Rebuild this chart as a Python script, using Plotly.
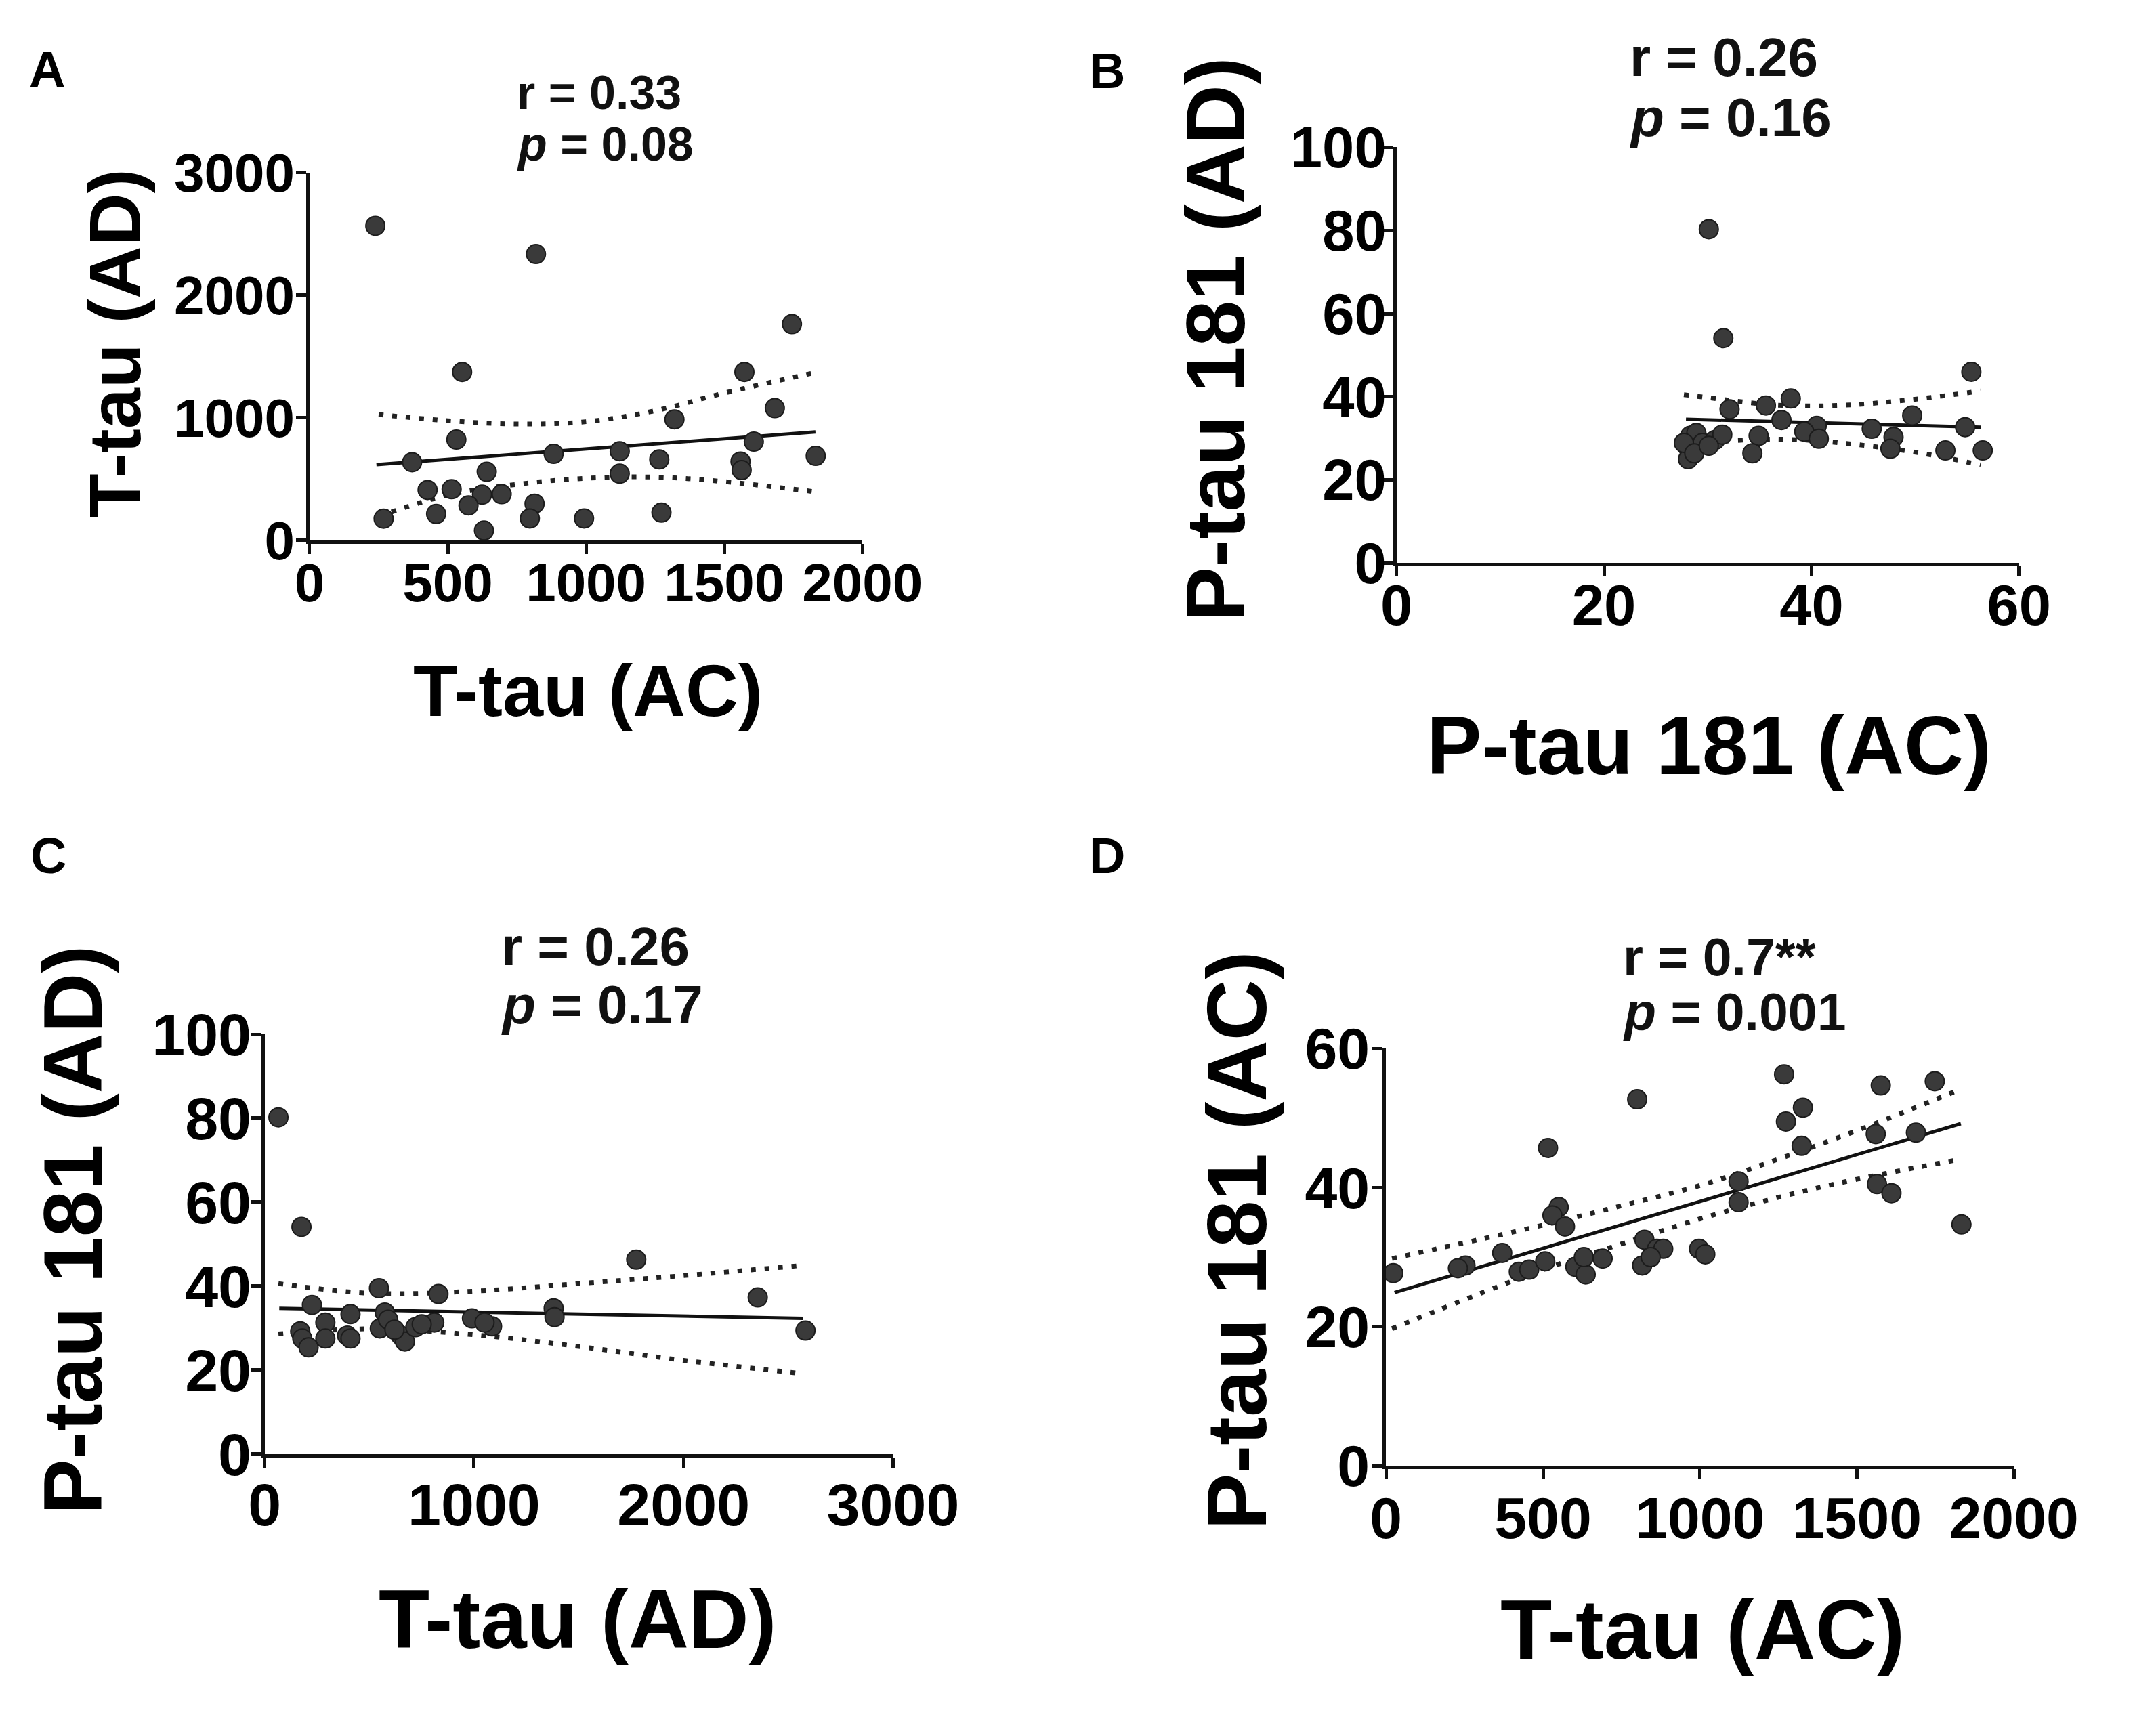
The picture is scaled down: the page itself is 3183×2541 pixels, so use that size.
import plotly.graph_objects as go

# ---- data ----
# A: T-tau (AC) vs T-tau (AD)
a_x = [238, 819, 1745, 552, 1573, 1683, 1320, 531, 1607, 371, 883, 1122, 1265, 1831, 1559,
       1563, 641, 1122, 427, 514, 624, 695, 575, 814, 797, 268, 458, 993, 1273, 631]
a_y = [2566, 2336, 1764, 1374, 1374, 1079, 987, 822, 805, 637, 706, 727, 660, 689, 643,
       573, 559, 544, 411, 417, 373, 377, 285, 299, 179, 177, 215, 179, 226, 80]
a_fit_x = [242, 1830]
a_fit_y = [618, 885]
a_band_x = [250, 500, 750, 1000, 1250, 1500, 1830]
a_band_hi = [1027, 976, 949, 968, 1058, 1202, 1370]
a_band_lo = [196, 369, 457, 506, 516, 479, 396]

# B: P-tau 181 (AC) vs P-tau 181 (AD)
b_x = [30.1, 31.5, 55.4, 38.0, 35.6, 32.1, 49.7, 37.1, 54.8, 45.8, 40.5, 39.3, 40.7, 47.9,
       47.6, 52.9, 56.5, 34.9, 34.3, 28.3, 28.9, 28.1, 28.1, 29.5, 30.7, 31.4, 27.7, 28.7, 30.1]
b_y = [80.3, 54.1, 46.0, 39.6, 37.9, 37.0, 35.5, 34.4, 32.7, 32.3, 33.0, 31.6, 29.9, 30.3,
       27.5, 27.1, 27.1, 30.6, 26.4, 30.6, 31.3, 27.8, 25.0, 28.9, 29.6, 30.9, 28.9, 26.4, 28.2]
b_fit_x = [27.9, 56.3]
b_fit_y = [34.6, 32.7]
b_band_x = [27.7, 32, 36, 40, 44, 48, 52, 56.3]
b_band_hi = [40.5, 39.2, 38.1, 37.8, 38.1, 38.9, 40.0, 41.4]
b_band_lo = [28.7, 29.4, 29.8, 29.5, 28.6, 27.4, 25.8, 23.6]

# C: T-tau (AD) vs P-tau 181 (AD)
c_x = [66, 176, 1774, 2354, 2582, 1380, 1384, 546, 830, 226, 410, 574, 990, 1086, 170,
       180, 210, 290, 290, 394, 410, 550, 590, 650, 670, 720, 810, 620, 750, 1050]
c_y = [80.2, 54.1, 46.3, 37.3, 29.4, 34.7, 32.6, 39.5, 38.1, 35.5, 33.3, 33.7, 32.3, 30.4, 29.2,
       27.5, 25.4, 31.3, 27.5, 28.2, 27.5, 29.9, 32.0, 28.2, 26.8, 30.2, 31.3, 29.6, 30.9, 31.3]
c_fit_x = [70, 2570]
c_fit_y = [34.7, 32.3]
c_band_x = [66, 500, 1000, 1500, 2000, 2540]
c_band_hi = [40.6, 38.3, 38.8, 40.6, 42.5, 44.8]
c_band_lo = [28.6, 29.8, 28.4, 25.6, 22.3, 19.3]

# D: T-tau (AC) vs P-tau 181 (AC)
d_x = [1268, 1576, 1748, 800, 1328, 1274, 516, 1324, 1560, 1688, 1123, 1123, 1564, 1610, 1833,
       550, 530, 570, 370, 253, 229, 23, 423, 456, 507, 603, 636, 630, 690, 823, 863, 883,
       816, 843, 997, 1017]
d_y = [56.3, 54.7, 55.3, 52.7, 51.5, 49.5, 45.7, 46.0, 47.7, 47.9, 40.9, 37.9, 40.5, 39.2, 34.7,
       37.2, 36.0, 34.4, 30.6, 28.8, 28.4, 27.7, 27.9, 28.2, 29.4, 28.6, 27.5, 30.0, 29.8, 32.5,
       31.2, 31.2, 28.8, 30.0, 31.2, 30.4]
d_fit_x = [27, 1831]
d_fit_y = [24.9, 49.2]
d_band_x = [19, 500, 750, 1000, 1250, 1500, 1833]
d_band_hi = [29.8, 34.6, 37.4, 40.3, 44.1, 48.2, 54.2]
d_band_lo = [19.7, 28.2, 31.9, 35.5, 38.6, 41.2, 44.1]

# page is 3183x2541; body has an 8px margin, so keep the figure inside it
PAGE_W, PAGE_H = 3183, 2541
OFF = 8
W, H = PAGE_W - 2 * OFF, PAGE_H - 2 * OFF
FONT = "Liberation Sans, Arial, sans-serif"
INK = "#111111"


def fx(px):
    return (px - OFF) / W


def fy(px):
    return 1 - (px - OFF) / H


panels = [
    dict(x=a_x, y=a_y, fx=a_fit_x, fy=a_fit_y, bx=a_band_x, bhi=a_band_hi, blo=a_band_lo,
         xr=[0, 2000], yr=[0, 3000], xt=[0, 500, 1000, 1500, 2000], yt=[0, 1000, 2000, 3000],
         xtitle="T-tau (AC)", ytitle="T-tau (AD)", box=(450, 1299, 214, 779), tsize=108,
         ticksize=80, xstd=-26, ystd=-14,
         xtpos=(877, 1010), ytpos=(151, 476), letter="A", lpos=(17, 55), r="r = 0.33", p="0.08",
         spos=(766, 91, 170), ssize=70),
    dict(x=b_x, y=b_y, fx=b_fit_x, fy=b_fit_y, bx=b_band_x, bhi=b_band_hi, blo=b_band_lo,
         xr=[0, 60], yr=[0, 100], xt=[0, 20, 40, 60], yt=[0, 20, 40, 60, 80, 100],
         xtitle="P-tau 181 (AC)", ytitle="P-tau 181 (AD)", box=(2119, 3075, 175, 814), tsize=122,
         ticksize=85, xstd=-30, ystd=-22,
         xtpos=(2599, 1095), ytpos=(1842, 470), letter="B", lpos=(1645, 57), r="r = 0.26", p="0.16",
         spos=(2475, 37, 129), ssize=80),
    dict(x=c_x, y=c_y, fx=c_fit_x, fy=c_fit_y, bx=c_band_x, bhi=c_band_hi, blo=c_band_lo,
         xr=[0, 3000], yr=[0, 100], xt=[0, 1000, 2000, 3000], yt=[0, 20, 40, 60, 80, 100],
         xtitle="T-tau (AD)", ytitle="P-tau 181 (AD)", box=(381, 1346, 1538, 2183), tsize=123,
         ticksize=88, xstd=-20, ystd=-18,
         xtpos=(862, 2437), ytpos=(86, 1838), letter="C", lpos=(19, 1264), r="r = 0.26", p="0.17",
         spos=(742, 1403, 1493), ssize=80),
    dict(x=d_x, y=d_y, fx=d_fit_x, fy=d_fit_y, bx=d_band_x, bhi=d_band_hi, blo=d_band_lo,
         xr=[0, 2000], yr=[0, 60], xt=[0, 500, 1000, 1500, 2000], yt=[0, 20, 40, 60],
         xtitle="T-tau (AC)", ytitle="P-tau 181 (AC)", box=(2103, 3067, 1560, 2201), tsize=125,
         ticksize=86, xstd=-16, ystd=-13,
         xtpos=(2589, 2452), ytpos=(1873, 1855), letter="D", lpos=(1645, 1264), r="r = 0.7**", p="0.001",
         spos=(2465, 1419, 1504), ssize=77),
]

fig = go.Figure()
annotations = []
layout = {}

for i, pn in enumerate(panels, start=1):
    sfx = "" if i == 1 else str(i)
    xref, yref = "x" + sfx, "y" + sfx

    # 95% band, dotted
    for band in (pn["bhi"], pn["blo"]):
        fig.add_trace(go.Scatter(
            x=pn["bx"], y=band, mode="lines", xaxis=xref, yaxis=yref,
            line=dict(color="#222222", width=7, dash="7px,13px", shape="spline"),
            hoverinfo="skip", showlegend=False, cliponaxis=False))
    # regression line
    fig.add_trace(go.Scatter(
        x=pn["fx"], y=pn["fy"], mode="lines", xaxis=xref, yaxis=yref,
        line=dict(color=INK, width=5), hoverinfo="skip", showlegend=False, cliponaxis=False))
    # points
    fig.add_trace(go.Scatter(
        x=pn["x"], y=pn["y"], mode="markers", xaxis=xref, yaxis=yref,
        marker=dict(size=28, color="#3a3a3a", line=dict(color="#1c1c1c", width=2)),
        showlegend=False, cliponaxis=False))

    x0, x1, y0, y1 = pn["box"]
    axis_common = dict(
        showgrid=False, zeroline=False, showline=True, linecolor=INK, linewidth=5,
        ticks="outside", ticklen=15, tickwidth=5, tickcolor=INK,
        tickfont=dict(family=FONT, size=pn["ticksize"], color="#000000", weight="bold"),
    )
    layout["xaxis" + sfx] = dict(
        axis_common, domain=[fx(x0), fx(x1)], range=pn["xr"], tickvals=pn["xt"],
        anchor=yref, ticklabelstandoff=pn["xstd"])
    layout["yaxis" + sfx] = dict(
        axis_common, domain=[fy(y1), fy(y0)], range=pn["yr"], tickvals=pn["yt"],
        anchor=xref, ticklabelstandoff=pn["ystd"])

    # axis titles
    tfont = dict(family=FONT, size=pn["tsize"], color="#000000")
    tx, ty = pn["xtpos"]
    annotations.append(dict(
        text="<b>%s</b>" % pn["xtitle"], x=fx(tx), y=fy(ty), xref="paper", yref="paper",
        xanchor="center", yanchor="middle", showarrow=False, font=tfont))
    tx, ty = pn["ytpos"]
    annotations.append(dict(
        text="<b>%s</b>" % pn["ytitle"], x=fx(tx), y=fy(ty), xref="paper", yref="paper",
        xanchor="center", yanchor="middle", showarrow=False, textangle=-90, font=tfont))

    # panel letter and stats
    lx, ly = pn["lpos"]
    annotations.append(dict(
        text="<b>%s</b>" % pn["letter"], x=fx(lx), y=fy(ly), xref="paper", yref="paper",
        xanchor="left", yanchor="middle", showarrow=False,
        font=dict(family=FONT, size=74, color="#000000")))
    sx, ry, py = pn["spos"]
    annotations.append(dict(
        text="<b>%s</b>" % pn["r"], x=fx(sx), y=fy(ry), xref="paper", yref="paper",
        xanchor="left", yanchor="middle", showarrow=False,
        font=dict(family=FONT, size=pn["ssize"], color="#111111")))
    annotations.append(dict(
        text="<b><i>p</i> = %s</b>" % pn["p"], x=fx(sx), y=fy(py), xref="paper", yref="paper",
        xanchor="left", yanchor="middle", showarrow=False,
        font=dict(family=FONT, size=pn["ssize"], color="#111111")))

fig.update_layout(
    width=W, height=H,
    margin=dict(l=0, r=0, t=0, b=0),
    paper_bgcolor="white", plot_bgcolor="white",
    annotations=annotations,
    **layout,
)

fig.write_html("out.html")
